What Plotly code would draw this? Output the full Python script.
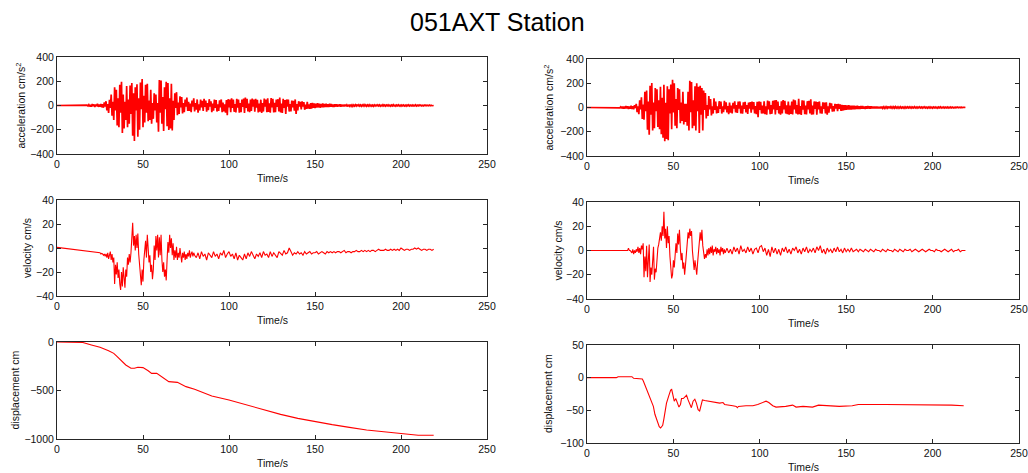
import numpy as np
import plotly.graph_objects as go

# ---------------------------------------------------------------------------
# 051AXT station records (two horizontal components)
# Noisy traces are sampled uniformly: value k is at t0 + k * dt seconds.
# ---------------------------------------------------------------------------

# acceleration, left component (cm/s^2), dt = 0.5 s starting at 17 s
acc_a_t0, acc_a_dt = 17.0, 0.5
acc_a = [
    0, 3, -4, 6, -8, 5, -10, 12, -6, 9, -12, 8, -5, 14, -11, 7, -9, 13, -15, 10,
    -18, 25, -8, 35, -40, 12, -62, 48, -20, 90, -85, 30, -120, 150, -40, 130, -165, 60, -180, 170,
    -60, 196, -227, 90, -190, 30, -120, 160, -180, 50, -150, 165, -70, 185, -250, 100, -293, 150, -40, 175,
    -257, 60, -200, 190, -30, 218, -180, 80, -140, 170, -60, 180, -130, 40, -120, 130, -150, 20, -110, 100,
    -40, 90, -140, 20, -216, 210, -60, 205, -150, 70, -210, 150, -30, 195, -170, 185, -202, 60, -190, 180,
    -205, 40, -120, 100, -20, 110, -80, 25, -70, 75, -15, 70, -65, 20, -55, 50, -10, 65, -45, 30,
    -45, 15, -55, 40, -10, 60, -48, 20, -35, 50, -60, 10, -40, 48, -15, 38, -45, 55, -12, 40,
    -50, 20, -38, 52, -10, 35, -55, 15, -42, 48, -20, 44, -50, 10, -45, 42, -15, 50, -55, 25,
    -48, 10, -60, 45, -80, 52, -15, 48, -55, 60, -20, 50, -52, 12, -58, 55, -18, 50, -60, 20,
    -55, 50, -12, 58, -62, 65, -20, 55, -48, 15, -56, 50, -45, 58, -10, 48, -52, 55, -18, 46,
    -58, 15, -50, 48, -62, 20, -50, 58, -10, 50, -55, 60, -52, 18, -60, 62, -15, 55, -58, 22,
    -55, 48, -12, 52, -50, 65, -58, 15, -62, 55, -20, 45, -70, 50, -10, 48, -50, 12, -48, 40,
    -15, 38, -42, 50, -70, 12, -40, 35, -8, 30, -32, 35, -10, 28, -35, 8, -28, 30, -25, 10,
    -28, 20, -25, 22, -20, 18, -22, 15, -18, 20, -16, 14, -18, 12, -15, 16, -14, 12, -12, 15,
    -13, 10, -12, 14, -10, 12, -11, 8, -12, 10, -9, 11, -10, 8, -8, 10, -9, 7, -8, 6,
    -7, 8, -6, 5, -8, 6, -5, 7, -6, 5, -7, 4, -5, 6, -4, 8, -6, 5, -5, 4,
    -6, 5, -4, 7, -5, 4, -6, 5, -4, 6, -5, 4, -5, 3, -6, 5, -4, 4, -3, 5,
    -4, 5, -5, 3, -4, 6, -3, 4, -5, 4, -3, 5, -4, 3, -5, 4, -3, 6, -4, 3,
    -5, 4, -3, 5, -4, 3, -5, 4, -3, 4, -4, 3, -5, 4, -3, 5, -4, 3, -3, 4,
    -4, 3, -3, 5, -4, 3, -3, 4, -2, 3, -3, 2, -3, 3, -2, 3, -2, 2, -2, 3,
    -2, 2, -2, 1, 0,
]

# acceleration, right component (cm/s^2), dt = 0.5 s starting at 17 s
acc_b_t0, acc_b_dt = 17.0, 0.5
acc_b = [
    0, 0, 0, 2, -3, 5, -6, 8, -10, 7, -9, 12, -8, 10, -13, 9, -11, 14, -12, 10,
    -15, 20, -5, 30, -38, 10, -55, 60, -15, 85, -95, 25, -100, 130, -30, 140, -183, 50, -224, 180,
    -60, 202, -190, 40, -170, 160, -30, 150, -160, 60, -180, 170, -220, 80, -250, 188, -279, 40, -260, 175,
    -270, 150, -50, 190, -180, 229, -40, 200, -150, 70, -170, 160, -20, 150, -130, 40, -110, 130, -140, 30,
    -120, 30, -150, 130, -190, 221, -40, 210, -170, 60, -150, 175, -190, 200, -30, 170, -210, 180, -60, 160,
    -190, 140, -20, 120, -90, 20, -70, 95, -15, 70, -65, 10, -50, 75, -20, 50, -48, 10, -45, 52,
    -12, 48, -50, 10, -38, 55, -15, 42, -40, 12, -55, 40, -42, 15, -48, 38, -10, 50, -40, 20,
    -45, 48, -10, 50, -48, 15, -50, 42, -12, 46, -40, 20, -52, 40, -10, 44, -42, 48, -15, 45,
    -48, 12, -55, 46, -80, 50, -20, 46, -50, 15, -48, 52, -55, 10, -60, 58, -15, 52, -56, 20,
    -52, 55, -15, 60, -58, 62, -20, 50, -50, 12, -60, 52, -48, 62, -15, 55, -50, 18, -55, 50,
    -60, 15, -52, 50, -58, 65, -15, 60, -50, 20, -58, 72, -55, 12, -62, 60, -18, 58, -55, 15,
    -58, 52, -15, 55, -50, 68, -60, 15, -58, 50, -12, 48, -60, 45, -15, 50, -48, 10, -50, 42,
    -12, 40, -48, 42, -60, 10, -42, 38, -10, 35, -35, 12, -32, 30, -8, 28, -30, 30, -10, 25,
    -28, 22, -26, 20, -22, 20, -20, 18, -18, 20, -17, 15, -16, 14, -15, 14, -14, 13, -12, 14,
    -12, 11, -13, 12, -10, 13, -11, 9, -12, 10, -10, 12, -9, 9, -9, 10, -8, 8, -8, 7,
    -7, 8, -7, 6, -8, 6, -6, 7, -6, 5, -7, 5, -5, 6, -5, 8, -6, 5, -5, 5,
    -6, 5, -5, 7, -5, 4, -6, 5, -4, 6, -5, 4, -5, 4, -6, 5, -4, 5, -4, 5,
    -4, 5, -5, 4, -4, 6, -4, 4, -5, 4, -3, 5, -4, 4, -5, 4, -3, 5, -4, 3,
    -5, 4, -4, 5, -4, 3, -5, 4, -3, 4, -4, 3, -5, 4, -3, 5, -4, 3, -3, 4,
    -4, 3, -3, 4, -4, 3, -3, 4, -3, 3, -3, 2, -3, 3, -2, 3, -2, 2, -2, 3,
    -2, 2, -2, 1, 0,
]

# velocity, left component (cm/s)
vel_a_pre_t = [0, 5, 10, 15, 20, 24.5]
vel_a_pre = [0.5, -0.5, -1.5, -2.5, -3.5, -4]
vel_a_t0, vel_a_dt = 25.0, 0.5          # strong-motion part
vel_a = [
    -4, -5, -4.5, -5, -6, -5, -7, -5, -8, -4, -9, -6, -3, -10, -5, -12, -8, -30, -14, -22,
    -12, -25, -18, -30, -35, -20, -32, -16, -28, -33, -18, -24, -8, -14, -5, -12, -4, 5, 21, 2,
    10, -2, 11, 0, 12, -5, -12, -22, -31, -18, -28, -10, -2, 6, -8, 11, 0, -12, -6, -20,
    -14, -26, -18, 2, -10, 10, -2, 11, -8, 9, -6, 11, -10, -20, -12, -24, -18, -27, -10, 5,
    -4, 11, 0, 8, -6, 4, -10, -2, -8, 1, -10, -4, -8, 0, -6, -12, -4, -8, -3, -10,
    -5, -9, -4, -7, -2, -8, -5, -3, -7, -4, -6,
]
vel_a_tail_t0, vel_a_tail_dt = 81.0, 1.0  # coda
vel_a_tail = [
    -8, -4, -9, -3, -7, -5, -10, -4, -6, -8,
    -3, -7, -5, -9, -4, -6, -2, -8, -5, -3,
    -7, -5, -9, -4, -10, -6, -8, -10, -5, -9,
    -4, -7, -3, -6, -9, -5, -7, -4, -8, -3,
    -6, -5, -8, -3, -7, -4, -6, -8, -3, -5,
    -6, -2, -5, -4, 0, -3, -6, -4, -5, -3,
    -5, -4, -6, -3, -5, -4, -3, -5, -4, -4,
    -3, -5, -4, -3, -4, -5, -3, -4, -3, -4,
    -3, -4, -3, -3, -4, -3, -2, -4, -3, -3,
    -4, -3, -3, -2, -3, -3, -2, -3, -2, -3,
    -2, -3, -2, -2, -3, -2, -1, -2, -2, -2,
    -1, -2, -2, -1, -2, -1, -2, -1, -2, 0,
    -1, -2, -1, -1, -2, -1, -1, 0, -1, 0,
    -1, -2, -1, -1, -2, -1, -1, -2, -1,
]

# velocity, right component (cm/s)
vel_b_pre_t = [0, 23.5]
vel_b_pre = [0, 0]
vel_b_t0, vel_b_dt = 24.0, 0.5
vel_b = [
    2, 0, 0, -1, -2, 1, -3, 0, -2, 1, -1, 3, -2, 2, -3, 4, 1, 6, -22, -5,
    -17, 4, -22, -8, 5, -26, -14, -20, -6, 3, -24, -15, -18, -2, 2, 5, 10, 15, 8, 20,
    12, 32, 10, 18, 2, 20, 6, 12, -5, -15, -23, -20, -8, -14, 0, 6, -2, 14, 5, 17,
    2, -8, -2, -15, -10, -20, -12, -5, 5, 15, 10, 18, 12, 16, 0, -10, -16, -8, -14, -20,
    -10, 0, 12, 15, 8, 17, 4, -2, -7, -3, -6, 1, -4, 2, -3, 3, -2, 4, -4, 1,
    -1, 3, -3, 2, -2, 1, -4, 3, -1, 2, -3, 1, -2,
]
vel_b_tail_t0, vel_b_tail_dt = 81.0, 1.0
vel_b_tail = [
    2, -2, 1, -3, 3, -1, 2, -3, 4, -1,
    1, -2, 3, -1, 2, -3, 1, 2, -2, 3,
    4, -1, 2, -4, 1, -5, 3, -2, 2, -3,
    1, -4, 2, -1, 3, -2, 1, -3, 2, 0,
    3, -2, 1, -3, 2, -1, 3, -2, 1, -1,
    2, -2, 3, 0, 4, -2, 1, -3, 2, -1,
    1, -2, 2, -1, 3, -1, 1, -2, 2, -1,
    1, -1, 2, -1, 0, 1, -1, 1, 0, -1,
    1, 0, -1, 1, 0, -1, 1, 0, 0, -1,
    1, 0, -1, 1, 0, 0, -1, 1, 0, -1,
    1, 0, -1, 1, 0, 0, 1, -1, 0, 1,
    0, -1, 0, 1, 0, -1, 0, 1, 0, 0,
    -1, 1, 0, 0, -1, 0, 1, 0, -1, 0,
    1, -1, 0, 0, 1, -1, 0, 0, 0,
]

# displacement, left component (cm)
disp_a_t = [0, 12, 15, 20, 25, 30, 33, 35, 38, 40, 43, 45, 47, 50, 53, 55, 58, 60, 63, 65,
            70, 75, 80, 90, 100, 110, 120, 130, 140, 150, 160, 170, 180, 190, 200, 205, 210, 219]
disp_a = [0, 0, -5, -31, -55, -90, -117, -151, -203, -237, -271, -271, -261, -264, -296, -323,
          -323, -350, -381, -409, -416, -460, -488, -557, -598, -649, -701, -746, -787, -821,
          -852, -880, -907, -925, -941, -955, -962, -962]

# displacement, right component (cm)
disp_b_t = [0, 17, 18, 26, 27, 32, 32.6, 34.5, 36.5, 38.4, 39.3, 40.3, 41.8, 42.6, 43.8, 44.5,
            46, 47.4, 48.4, 49, 49.9, 50.5, 51.4, 52.2, 53.2, 54.1, 54.7, 55.7, 56.6, 57.6,
            58.5, 59.5, 60.4, 61.4, 62.4, 63.3, 64.3, 65.2, 65.8, 66.8, 68.1, 70, 72.9, 76.8,
            78.7, 79.6, 84.4, 86.4, 87, 87.6, 92, 96, 98.8, 101.7, 103.6, 105.2, 107.5, 109.4,
            115, 119, 121, 125, 130.5, 134, 140, 146, 153.5, 157, 172.7, 192, 207, 211, 218]
disp_b = [0, 0, 1.5, 1.5, -1, -2, -5, -17, -31, -44, -56, -65, -75, -77, -73, -63,
          -39, -27, -19, -18, -29, -36, -32, -39, -45, -41, -32, -32, -29, -27,
          -34, -41, -46, -36, -33, -39, -49, -51, -46, -34, -35, -36, -38, -39,
          -38, -41, -43, -44, -46, -44, -43, -43, -41, -38, -36, -38, -43, -45,
          -44, -42, -45, -44, -45, -42, -43, -44, -43, -41, -41, -41, -41, -42, -43]


def sampled(t0, dt, values):
    """Time stamps of a uniformly sampled record."""
    return t0 + dt * np.arange(len(values))


acc_a_t = np.concatenate([[0.0], sampled(acc_a_t0, acc_a_dt, acc_a)])
acc_a_y = [0.0] + acc_a
acc_b_t = np.concatenate([[0.0], sampled(acc_b_t0, acc_b_dt, acc_b)])
acc_b_y = [0.0] + acc_b
vel_a_t = np.concatenate([vel_a_pre_t, sampled(vel_a_t0, vel_a_dt, vel_a),
                          sampled(vel_a_tail_t0, vel_a_tail_dt, vel_a_tail)])
vel_a_y = vel_a_pre + vel_a + vel_a_tail
vel_b_t = np.concatenate([vel_b_pre_t, sampled(vel_b_t0, vel_b_dt, vel_b),
                          sampled(vel_b_tail_t0, vel_b_tail_dt, vel_b_tail)])
vel_b_y = vel_b_pre + vel_b + vel_b_tail

# ---------------------------------------------------------------------------
W, H = 1028, 473
FONT = "Liberation Sans, Arial, sans-serif"
RED = "#ff0000"
FRAME = "#262626"

# panel boxes in pixels: (left, right, top, bottom)
boxes = [
    (57, 487, 57, 154), (587, 1019, 59, 156),
    (57, 487, 200, 296), (587, 1019, 202, 299),
    (57, 487, 342, 439), (587, 1019, 345, 443),
]
series = [
    (acc_a_t, acc_a_y), (acc_b_t, acc_b_y),
    (vel_a_t, vel_a_y), (vel_b_t, vel_b_y),
    (disp_a_t, disp_a), (disp_b_t, disp_b),
]
line_widths = [1.7, 1.7, 1.1, 1.1, 1.1, 1.1]
y_ranges = [(-400, 400), (-400, 400), (-40, 40), (-40, 40), (-1000, 0), (-100, 50)]
y_ticks = [[-400, -200, 0, 200, 400]] * 2 + [[-40, -20, 0, 20, 40]] * 2 + \
          [[-1000, -500, 0], [-100, -50, 0, 50]]
y_titles = ["acceleration cm/s<sup>2</sup>"] * 2 + ["velocity cm/s"] * 2 + ["displacement cm"] * 2
y_title_x = [20, 548, 27, 557, 14, 548]

fig = go.Figure()
layout = dict(
    width=W, height=H, autosize=False,
    margin=dict(l=0, r=0, t=0, b=0),
    paper_bgcolor="white", plot_bgcolor="white",
    showlegend=False,
    font=dict(family=FONT, size=10, color="#111"),
)
annotations = []

for i, ((x, y), (l, r, t, b)) in enumerate(zip(series, boxes)):
    k = i + 1
    xa = "x" if k == 1 else f"x{k}"
    ya = "y" if k == 1 else f"y{k}"
    fig.add_trace(go.Scatter(x=x, y=y, mode="lines", xaxis=xa, yaxis=ya,
                             line=dict(color=RED, width=line_widths[i]), hoverinfo="skip"))
    common = dict(showline=True, linecolor=FRAME, linewidth=1, mirror="ticks",
                  ticks="inside", ticklen=4, tickcolor=FRAME, showgrid=False,
                  zeroline=False, automargin=False,
                  tickfont=dict(family=FONT, size=10.5, color="#111"))
    layout["xaxis" if k == 1 else f"xaxis{k}"] = dict(
        domain=[l / W, r / W], range=[0, 250], tickvals=[0, 50, 100, 150, 200, 250],
        anchor=ya, **common)
    layout["yaxis" if k == 1 else f"yaxis{k}"] = dict(
        domain=[1 - b / H, 1 - t / H], range=list(y_ranges[i]), tickvals=y_ticks[i],
        anchor=xa, **common)
    annotations.append(dict(text="Time/s", x=(l + r) / 2 / W, y=1 - (b + 24) / H,
                            xref="paper", yref="paper", showarrow=False,
                            xanchor="center", yanchor="middle",
                            font=dict(family=FONT, size=10.5, color="#111")))
    annotations.append(dict(text=y_titles[i], x=y_title_x[i] / W, y=1 - (t + b) / 2 / H,
                            xref="paper", yref="paper", showarrow=False, textangle=-90,
                            xanchor="center", yanchor="middle",
                            font=dict(family=FONT, size=10.5, color="#111")))

annotations.append(dict(text="051AXT Station", x=497 / W, y=1 - 22 / H,
                        xref="paper", yref="paper", showarrow=False,
                        xanchor="center", yanchor="middle",
                        font=dict(family=FONT, size=25, color="#000")))
layout["annotations"] = annotations
fig.update_layout(**layout)

fig.write_html("out.html")
